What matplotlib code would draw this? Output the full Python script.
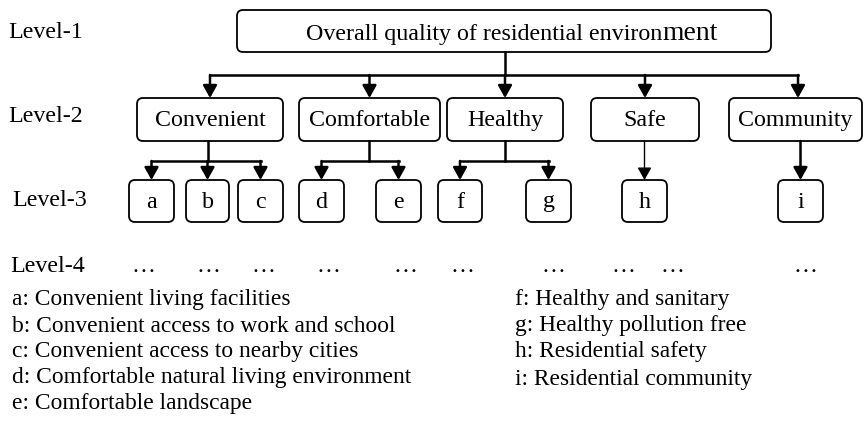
#!/usr/bin/env python3

import matplotlib.pyplot as plt
from matplotlib.patches import FancyBboxPatch

plt.rcParams['font.family'] = ['Liberation Serif', 'DejaVu Serif']

# Hierarchy content
top_label = ["Overall quality of residential environ", "ment"]
level_names = ["Level-1", "Level-2", "Level-3", "Level-4"]
level2_labels = ["Convenient", "Comfortable", "Healthy", "Safe", "Community"]
level3_labels = ["a", "b", "c", "d", "e", "f", "g", "h", "i"]
level3_parent = [0, 0, 0, 1, 1, 2, 2, 3, 4]
level4_count = 10
left_defs = ["a: Convenient living facilities",
             "b: Convenient access to work and school",
             "c: Convenient access to nearby cities",
             "d: Comfortable natural living environment",
             "e: Comfortable landscape"]
right_defs = ["f: Healthy and sanitary",
              "g: Healthy pollution free",
              "h: Residential safety",
              "i: Residential community"]

# Layout (pixel coordinates)
top_box = (237, 10, 771, 52)
l2_x = [(137, 283), (299, 440), (447, 563), (591, 699), (729, 862)]
l2_y = (98, 141)
l3_x = [(129, 174), (186, 229), (238, 283), (299, 344), (376, 421),
        (438, 482), (526, 571), (622, 667), (778, 823)]
l3_y = (180, 222)
l4_x = [143, 208, 263, 328, 405, 462, 553, 623, 672, 805]
l4_y = 267
level_y = [33, 117, 200, 267]
level_lx = [8, 8, 12, 10]
left_y = [300, 326, 352, 378, 404]
right_y = [300, 326, 352, 379]

FS = 17.3
FS_DEF = 16.9

fig = plt.figure(figsize=(8.65, 4.32), dpi=100)
ax = fig.add_axes([0, 0, 1, 1])
ax.set_xlim(0, 865)
ax.set_ylim(432, 0)
ax.axis('off')


def box(x0, y0, x1, y1, text=None):
    p = FancyBboxPatch((x0, y0), x1 - x0, y1 - y0,
                       boxstyle="round,pad=0,rounding_size=6",
                       fc='white', ec='black', lw=1.3)
    ax.add_patch(p)
    if text is not None:
        ax.text((x0 + x1) / 2, (y0 + y1) / 2 + 1, text, ha='center',
                va='center', fontsize=FS)


def arrow(x, y0, y1, lw=1.8):
    ax.annotate("", xy=(x, y1), xytext=(x, y0),
                arrowprops=dict(arrowstyle='-|>,head_length=0.75,head_width=0.42',
                                lw=lw, color='black', shrinkA=0, shrinkB=0))


LW = 1.8

# Level 1 (the last syllable is set a little larger, as in the source)
box(*top_box)
ax.text(662, 40, top_label[0], ha='right', va='baseline', fontsize=FS)
ax.text(662, 40, top_label[1], ha='left', va='baseline', fontsize=FS * 1.15)
top_cx = 505
branch_y = 75
ax.plot([top_cx, top_cx], [top_box[3], branch_y], color='black', lw=LW)
l2_cx = [(a + b) / 2 for a, b in l2_x]
arrow_x2 = list(l2_cx)
arrow_x2[4] = 798
ax.plot([arrow_x2[0], arrow_x2[-1]], [branch_y, branch_y], color='black', lw=LW)
for x in arrow_x2:
    arrow(x, branch_y, l2_y[0])

# Level 2
for (x0, x1), lab in zip(l2_x, level2_labels):
    box(x0, l2_y[0], x1, l2_y[1], lab)

# Level 3 connectors
l3_cx = [(a + b) / 2 for a, b in l3_x]
sub_y = 161
for i, cx in enumerate(l2_cx):
    kids = [l3_cx[k] for k, p in enumerate(level3_parent) if p == i]
    if len(kids) > 1:
        px = [208, 369, 505][i]
        ax.plot([px, px], [l2_y[1], sub_y], color='black', lw=LW)
        ax.plot([kids[0], kids[-1]], [sub_y, sub_y], color='black', lw=LW)
        for k in kids:
            arrow(k, sub_y, l3_y[0])
    else:
        arrow(kids[0], l2_y[1], l3_y[0], lw=1.0 if i == 3 else LW)

for (x0, x1), lab in zip(l3_x, level3_labels):
    box(x0, l3_y[0], x1, l3_y[1], lab)

# Level 4
for x in l4_x[:level4_count]:
    ax.text(x, l4_y, "\u2026", ha='center', va='center', fontsize=FS)

# Level labels
for name, x, y in zip(level_names, level_lx, level_y):
    ax.text(x, y, name, ha='left', va='center', fontsize=FS)

# Definitions
for t, y in zip(left_defs, left_y):
    ax.text(12, y, t, ha='left', va='center', fontsize=FS_DEF)
for t, y in zip(right_defs, right_y):
    ax.text(515, y, t, ha='left', va='center', fontsize=FS_DEF)

fig.savefig("out.png", dpi=100)
